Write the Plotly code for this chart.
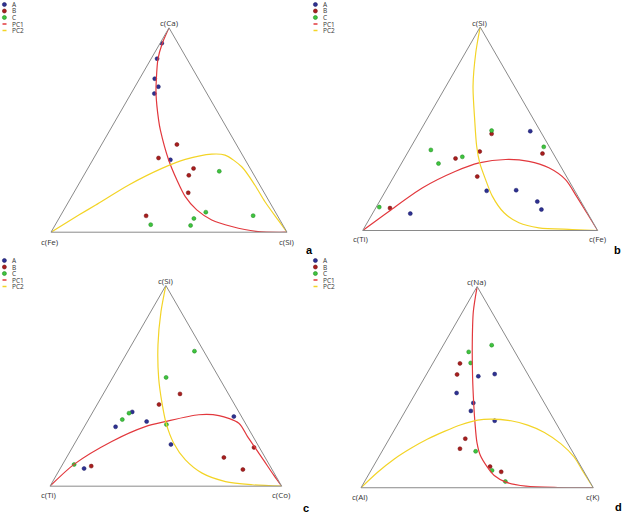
import plotly.graph_objects as go

W, H = 623, 513

groups = ["A", "B", "C"]
group_colors = ["#2e3192", "#a81e1e", "#3fc43f"]
group_edges = ["#1c1f66", "#731313", "#228822"]
curves = ["PC1", "PC2"]
curve_colors = ["#e2383d", "#f3d427"]

# every triple is (top, bottom-left, bottom-right)

# panel a: c(Ca) / c(Fe) / c(Si)
a_A = [(0.925, 0.068, 0.007), (0.849, 0.126, 0.025), (0.751, 0.185, 0.064),
       (0.712, 0.189, 0.099), (0.678, 0.223, 0.099), (0.354, 0.317, 0.329)]
a_B = [(0.429, 0.252, 0.319), (0.363, 0.363, 0.274), (0.312, 0.240, 0.448),
       (0.278, 0.277, 0.445), (0.193, 0.322, 0.485), (0.080, 0.557, 0.363)]
a_C = [(0.298, 0.138, 0.564), (0.098, 0.295, 0.607), (0.081, 0.103, 0.816),
       (0.067, 0.361, 0.572), (0.037, 0.559, 0.404), (0.033, 0.392, 0.575)]
a_PC1 = [(1, 0, 0), (0.922, 0.068, 0.010), (0.849, 0.122, 0.029), (0.751, 0.178, 0.071),
         (0.678, 0.216, 0.106), (0.548, 0.270, 0.182), (0.499, 0.287, 0.214),
         (0.353, 0.325, 0.322), (0.255, 0.339, 0.406), (0.174, 0.344, 0.482),
         (0.109, 0.328, 0.563), (0.060, 0.289, 0.651), (0.028, 0.220, 0.752),
         (0.003, 0.121, 0.876), (0, 0, 1)]
a_PC2 = [(0, 1, 0), (0.085, 0.838, 0.077), (0.133, 0.744, 0.123), (0.231, 0.555, 0.214),
         (0.312, 0.374, 0.314), (0.356, 0.253, 0.391), (0.382, 0.128, 0.490),
         (0.377, 0.074, 0.549), (0.320, 0.032, 0.648), (0.231, 0.021, 0.748),
         (0.150, 0.019, 0.831), (0.060, 0.008, 0.932), (0, 0, 1)]

# panel b: c(Si) / c(Ti) / c(Fe)
b_A = [(0.488, 0.043, 0.469), (0.198, 0.248, 0.554), (0.142, 0.186, 0.672),
       (0.103, 0.188, 0.709), (0.195, 0.375, 0.430), (0.083, 0.756, 0.161)]
b_B = [(0.475, 0.214, 0.311), (0.388, 0.308, 0.304), (0.354, 0.428, 0.218),
       (0.265, 0.380, 0.355), (0.378, 0.046, 0.576), (0.110, 0.829, 0.061)]
b_C = [(0.491, 0.206, 0.303), (0.411, 0.024, 0.565), (0.396, 0.512, 0.092),
       (0.362, 0.395, 0.243), (0.329, 0.513, 0.158), (0.115, 0.872, 0.013)]
b_PC1 = [(0, 1, 0), (0.095, 0.840, 0.065), (0.210, 0.640, 0.150), (0.291, 0.459, 0.250),
         (0.332, 0.339, 0.329), (0.349, 0.217, 0.434), (0.340, 0.123, 0.537),
         (0.308, 0.054, 0.638), (0.250, 0.012, 0.738), (0.169, 0.006, 0.825),
         (0.087, 0.003, 0.910), (0, 0, 1)]
b_PC2 = [(1, 0, 0), (0.872, 0.083, 0.045), (0.709, 0.176, 0.115), (0.545, 0.251, 0.204),
         (0.414, 0.308, 0.278), (0.332, 0.336, 0.332), (0.250, 0.352, 0.398),
         (0.169, 0.364, 0.467), (0.087, 0.355, 0.558), (0.038, 0.316, 0.646),
         (0.013, 0.244, 0.743), (0.005, 0.106, 0.889), (0, 0, 1)]

# panel c: c(Si) / c(Ti) / c(Co)
c_A = [(0.370, 0.460, 0.170), (0.296, 0.569, 0.135), (0.322, 0.422, 0.256),
       (0.208, 0.374, 0.418), (0.347, 0.033, 0.620), (0.088, 0.809, 0.103)]
c_B = [(0.460, 0.209, 0.331), (0.407, 0.326, 0.267), (0.143, 0.178, 0.679),
       (0.193, 0.023, 0.784), (0.083, 0.126, 0.791), (0.100, 0.772, 0.128)]
c_C = [(0.673, 0.040, 0.287), (0.542, 0.228, 0.230), (0.364, 0.477, 0.159),
       (0.332, 0.522, 0.146), (0.307, 0.344, 0.349), (0.108, 0.842, 0.050)]
c_PC1 = [(0, 1, 0), (0.110, 0.840, 0.050), (0.223, 0.622, 0.155), (0.297, 0.440, 0.263),
         (0.322, 0.341, 0.337), (0.356, 0.180, 0.464), (0.352, 0.095, 0.553),
         (0.314, 0.028, 0.658), (0.248, 0.024, 0.728), (0.193, 0.019, 0.788),
         (0.126, 0.013, 0.861), (0.056, 0.007, 0.937), (0, 0, 1)]
c_PC2 = [(1, 0, 0), (0.870, 0.086, 0.044), (0.704, 0.182, 0.114), (0.538, 0.262, 0.200),
         (0.414, 0.310, 0.277), (0.314, 0.342, 0.344), (0.214, 0.359, 0.427),
         (0.131, 0.350, 0.519), (0.065, 0.311, 0.624), (0.023, 0.231, 0.746),
         (0.007, 0.123, 0.870), (0, 0, 1)]

# panel d: c(Na) / c(Al) / c(K)
d_A = [(0.554, 0.218, 0.228), (0.565, 0.142, 0.293), (0.471, 0.353, 0.176),
       (0.422, 0.306, 0.273), (0.382, 0.336, 0.282), (0.333, 0.258, 0.409)]
d_B = [(0.618, 0.265, 0.117), (0.563, 0.305, 0.132), (0.244, 0.429, 0.327),
       (0.194, 0.477, 0.329), (0.105, 0.392, 0.503), (0.079, 0.357, 0.564)]
d_C = [(0.708, 0.083, 0.208), (0.676, 0.199, 0.126), (0.621, 0.218, 0.162),
       (0.181, 0.416, 0.403), (0.086, 0.393, 0.521), (0.031, 0.363, 0.606)]
d_PC1 = [(1, 0, 0), (0.875, 0.079, 0.046), (0.710, 0.166, 0.124), (0.545, 0.247, 0.208),
         (0.422, 0.304, 0.274), (0.325, 0.347, 0.328), (0.226, 0.388, 0.386),
         (0.160, 0.406, 0.434), (0.105, 0.405, 0.490), (0.061, 0.396, 0.543),
         (0.028, 0.362, 0.610), (0.008, 0.286, 0.706), (0.001, 0.152, 0.847), (0, 0, 1)]
d_PC2 = [(0, 1, 0), (0.077, 0.890, 0.033), (0.143, 0.785, 0.072), (0.196, 0.687, 0.117),
         (0.242, 0.592, 0.166), (0.280, 0.501, 0.219), (0.313, 0.413, 0.274),
         (0.336, 0.330, 0.334), (0.341, 0.270, 0.389), (0.333, 0.188, 0.479),
         (0.311, 0.127, 0.562), (0.275, 0.073, 0.652), (0.218, 0.030, 0.752),
         (0.152, 0.006, 0.842), (0.086, 0.004, 0.910), (0, 0, 1)]

panels = [
    dict(name="ternary", letter="a", labels=("c(Ca)", "c(Fe)", "c(Si)"),
         pts=[a_A, a_B, a_C], pcs=[a_PC1, a_PC2],
         box=(51, 287, 27, 233), origin=(0, 0), letter_xy=(309, 250)),
    dict(name="ternary2", letter="b", labels=("c(Si)", "c(Ti)", "c(Fe)"),
         pts=[b_A, b_B, b_C], pcs=[b_PC1, b_PC2],
         box=(362.7, 597.7, 27, 230.5), origin=(311, 0), letter_xy=(617, 250)),
    dict(name="ternary3", letter="c", labels=("c(Si)", "c(Ti)", "c(Co)"),
         pts=[c_A, c_B, c_C], pcs=[c_PC1, c_PC2],
         box=(50, 281.7, 285.4, 486.3), origin=(0, 256), letter_xy=(306, 508)),
    dict(name="ternary4", letter="d", labels=("c(Na)", "c(Al)", "c(K)"),
         pts=[d_A, d_B, d_C], pcs=[d_PC1, d_PC2],
         box=(361, 593.3, 286, 488.3), origin=(311, 256), letter_xy=(618, 507)),
]

FONT = "Open Sans, Arial, sans-serif"

fig = go.Figure()
layout = dict(width=W, height=H, margin=dict(l=0, r=0, t=0, b=0),
              paper_bgcolor="white", showlegend=False,
              font=dict(family=FONT, color="#333333"))
annotations = []
shapes = []

axis_style = dict(title=dict(text=""), showticklabels=False, ticks="", showgrid=False,
                  linecolor="#8a8a8a", linewidth=1, min=0)


def label(x, y, text, size=8, **kw):
    annotations.append(dict(x=x / W, y=1 - y / H, xref="paper", yref="paper",
                            text=text, showarrow=False, xanchor=kw.get("xanchor", "center"),
                            yanchor="middle",
                            font=dict(size=size, color=kw.get("color", "#333333"),
                                      family=kw.get("family", FONT))))


for p in panels:
    sub = p["name"]
    for name, tri, col, edge in zip(groups, p["pts"], group_colors, group_edges):
        fig.add_trace(go.Scatterternary(
            a=[t[0] for t in tri], b=[t[1] for t in tri], c=[t[2] for t in tri],
            mode="markers", name=name, subplot=sub,
            marker=dict(size=4, color=col, line=dict(color=edge, width=0.5))
        ))
    for name, tri, col in zip(curves, p["pcs"], curve_colors):
        fig.add_trace(go.Scatterternary(
            a=[t[0] for t in tri], b=[t[1] for t in tri], c=[t[2] for t in tri],
            mode="lines", name=name, subplot=sub,
            line=dict(color=col, width=1.2, shape="spline", smoothing=0.8)
        ))

    x0, x1, y0, y1 = p["box"]
    layout[sub] = dict(
        domain=dict(x=[x0 / W, x1 / W], y=[1 - y1 / H, 1 - y0 / H]),
        sum=1, bgcolor="white",
        aaxis=axis_style, baxis=axis_style, caxis=axis_style,
    )

    # corner labels
    label((x0 + x1) / 2, y0 - 4.5, p["labels"][0])
    label(x0 - 1.5, y1 + 8.5, p["labels"][1])
    label(x1, y1 + 8.5, p["labels"][2])

    # small legend in the top-left corner of each panel
    ox, oy = p["origin"]
    items = list(zip(groups, group_colors, group_edges)) + \
        [(n, c, None) for n, c in zip(curves, curve_colors)]
    for i, (name, col, edge) in enumerate(items):
        yc = oy + 4.5 + 6.5 * i
        if edge:
            shapes.append(dict(type="circle", xref="paper", yref="paper",
                               x0=(ox + 2.4) / W, x1=(ox + 6.4) / W,
                               y0=1 - (yc + 2) / H, y1=1 - (yc - 2) / H,
                               fillcolor=col, line=dict(color=edge, width=0.6)))
        else:
            shapes.append(dict(type="line", xref="paper", yref="paper",
                               x0=(ox + 2.5) / W, x1=(ox + 6.5) / W,
                               y0=1 - yc / H, y1=1 - yc / H,
                               line=dict(color=col, width=1.5)))
        label(ox + 10, yc, name, size=6.5, xanchor="left")

    lx, ly = p["letter_xy"]
    label(lx, ly, "<b>%s</b>" % p["letter"], size=11, color="black",
          family="Arial, sans-serif")

layout["annotations"] = annotations
layout["shapes"] = shapes
fig.update_layout(**layout)

# the page's default 8px body margin would shift the whole figure
fig.write_html("out.html", config={"displayModeBar": False},
               post_script="document.body.style.margin = '0';")
